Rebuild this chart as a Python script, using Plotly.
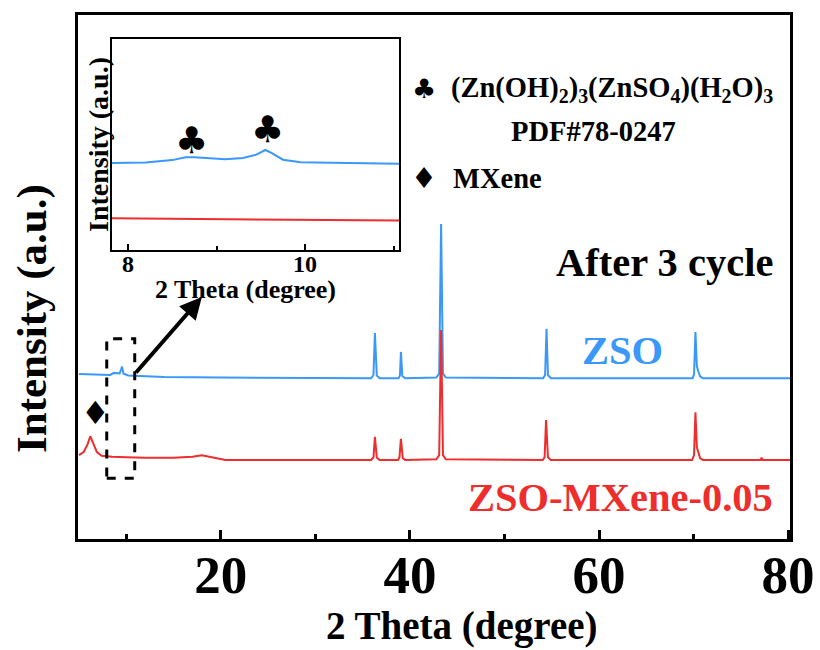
import plotly.graph_objects as go

W, H = 820, 650
SERIF = "Liberation Serif"
SYM = "DejaVu Sans"
BLUE = "#3A98F8"
RED = "#EE2D2D"

# ---- main XRD patterns (2θ in degree, intensity in a.u., ZSO stacked above) ----
red_x = [5.0, 5.5, 5.9, 6.2, 6.5, 6.9, 7.4, 8.5, 10.0, 12.0, 15.0, 17.0, 18.0, 19.0, 20.5,
         30.0, 35.9, 36.15, 36.3, 36.5, 36.8, 38.75, 38.9, 39.05, 39.25, 39.5,
         42.8, 43.1, 43.3, 43.5, 43.8, 54.05, 54.25, 54.4, 54.6, 54.9,
         69.85, 70.05, 70.2, 70.35, 70.5, 70.7, 71.0, 77.1, 77.2, 77.3, 80.2]
red_y = [16.0, 16.6, 18.0, 19.6, 18.3, 16.6, 15.9, 15.7, 15.6, 15.5, 15.5, 15.7, 16.0, 15.6, 15.1,
         15.1, 15.1, 15.6, 19.5, 15.5, 15.1, 15.1, 15.6, 19.1, 15.4, 15.1,
         15.2, 16.0, 39.9, 16.0, 15.2, 15.1, 15.6, 22.7, 15.6, 15.1,
         15.1, 16.0, 24.2, 17.5, 16.5, 15.4, 15.1, 15.1, 15.5, 15.1, 15.1]

blue_x = [5.0, 7.0, 8.3, 8.7, 9.3, 9.45, 9.55, 9.7, 10.2, 14.0, 20.0,
          35.9, 36.15, 36.3, 36.5, 36.8, 38.8, 38.95, 39.05, 39.2, 39.5,
          42.8, 43.1, 43.3, 43.5, 43.8, 54.1, 54.3, 54.45, 54.6, 54.9,
          69.9, 70.05, 70.2, 70.35, 70.5, 70.7, 71.0, 80.2]
blue_y = [31.5, 31.4, 31.3, 31.7, 31.6, 32.3, 32.9, 31.6, 31.2, 30.9, 30.8,
          30.7, 31.3, 39.3, 31.2, 30.7, 30.7, 31.2, 35.7, 31.1, 30.7,
          30.8, 31.6, 60.1, 31.6, 30.8, 30.7, 31.3, 40.1, 31.3, 30.7,
          30.7, 31.4, 39.5, 33.0, 32.0, 31.0, 30.7, 30.7]

# ---- enlarged low-angle window (inset) ----
inset_blue_x = [7.82, 8.2, 8.5, 8.65, 8.75, 8.95, 9.1, 9.3, 9.45, 9.55, 9.62, 9.75, 9.95, 10.3, 10.7, 11.06]
inset_blue_y = [41.2, 41.5, 42.6, 44.0, 43.9, 43.2, 43.0, 43.6, 45.2, 47.4, 46.0, 42.8, 41.6, 41.3, 41.0, 40.9]
inset_red_x = [7.82, 8.5, 9.2, 10.0, 10.6, 11.06]
inset_red_y = [15.0, 14.8, 14.6, 14.4, 14.2, 14.0]

club_x = [8.72, 9.57]
club_y = [52.0, 57.0]
mxene_mark = (6.7, 24.0)
zoom_window = (7.94, 10.9)
zoom_box_y = (11.6, 38.2)
arrow_tail = (10.9, 31.5)
arrow_head = (18.0, 46.2)

main_xticks = [20, 40, 60, 80]
main_minor = [10, 30, 50, 70]
inset_xticks = [8, 10]
inset_minor = [9, 11]


def px(x):
    return x / W


def py(y):
    return 1 - y / H


def label(x, y, text, size, color="black", family=SERIF, xanchor="center", angle=0):
    return dict(x=px(x), y=py(y), xref="paper", yref="paper", text=text, showarrow=False,
                xanchor=xanchor, yanchor="middle", textangle=angle,
                font=dict(family=family, size=size, color=color))


fig = go.Figure()
fig.add_trace(go.Scatter(x=blue_x, y=blue_y, mode="lines", line=dict(color=BLUE, width=2),
                         xaxis="x", yaxis="y", hoverinfo="skip"))
fig.add_trace(go.Scatter(x=red_x, y=red_y, mode="lines", line=dict(color=RED, width=2),
                         xaxis="x", yaxis="y", hoverinfo="skip"))
fig.add_trace(go.Scatter(x=inset_blue_x, y=inset_blue_y, mode="lines", line=dict(color=BLUE, width=2),
                         xaxis="x2", yaxis="y2", hoverinfo="skip"))
fig.add_trace(go.Scatter(x=inset_red_x, y=inset_red_y, mode="lines", line=dict(color=RED, width=2),
                         xaxis="x2", yaxis="y2", hoverinfo="skip"))

ann = []
# clubs in the inset
for cx, cy in zip(club_x, club_y):
    ann.append(dict(x=cx, y=cy, xref="x2", yref="y2", text="♣", showarrow=False,
                    xanchor="center", yanchor="middle",
                    font=dict(family=SYM, size=37, color="black")))
# diamond over the MXene peak
ann.append(dict(x=mxene_mark[0], y=mxene_mark[1], xref="x", yref="y", text="♦", showarrow=False,
                xanchor="center", yanchor="middle",
                font=dict(family=SYM, size=32, color="black")))
# arrow from the dashed window to the inset
ann.append(dict(x=arrow_head[0], y=arrow_head[1], ax=arrow_tail[0], ay=arrow_tail[1],
                xref="x", yref="y", axref="x", ayref="y", text="", showarrow=True,
                arrowhead=2, arrowsize=1.1, arrowwidth=4, arrowcolor="black"))

# phase legend
ann.append(label(424, 88, "♣", 27, family=SYM))
ann.append(label(449, 90, "<b>(Zn(OH)<sub>2</sub>)<sub>3</sub>(ZnSO<sub>4</sub>)(H<sub>2</sub>O)<sub>3</sub></b>",
                 28.5, xanchor="left"))
ann.append(label(593, 132, "<b>PDF#78-0247</b>", 28.5))
ann.append(label(424, 178, "♦", 29, family=SYM))
ann.append(label(451, 178, "<b>MXene</b>", 28.5, xanchor="left"))

# sample labels
ann.append(label(775, 262, "<b>After 3 cycle</b>", 40.5, xanchor="right"))
ann.append(label(622, 350, "<b>ZSO</b>", 40.5, color=BLUE))
ann.append(label(775, 497, "<b>ZSO-MXene-0.05</b>", 40.5, color=RED, xanchor="right"))

# axis titles
ann.append(label(462, 626, "<b>2 Theta (degree)</b>", 39))
ann.append(label(32, 319, "<b>Intensity (a.u.)</b>", 43, angle=-90))
ann.append(label(245, 289, "<b>2 Theta (degree)</b>", 26))
ann.append(label(98, 145, "<b>Intensity (a.u.)</b>", 28, angle=-90))

shapes = [dict(type="rect", xref="x", yref="y", x0=zoom_window[0], x1=zoom_window[1],
               y0=zoom_box_y[0], y1=zoom_box_y[1], line=dict(color="black", width=3, dash="dash"))]

fig.update_layout(
    template="none",
    width=W, height=H, margin=dict(l=0, r=0, t=0, b=0, pad=0), autosize=False,
    paper_bgcolor="white", plot_bgcolor="white", showlegend=False,
    annotations=ann, shapes=shapes,
    xaxis=dict(domain=[px(78), px(790)], range=[4.9, 80.2], showgrid=False, zeroline=False,
               automargin=False,
               showline=True, linecolor="black", linewidth=3, mirror=True,
               tickmode="array", tickvals=main_xticks, ticktext=[f"<b>{t}</b>" for t in main_xticks],
               ticks="inside", ticklen=9, tickwidth=3, tickcolor="black",
               minor=dict(tickmode="array", tickvals=main_minor, ticks="inside", ticklen=5,
                          tickwidth=3, tickcolor="black", showgrid=False),
               tickfont=dict(family=SERIF, size=53, color="black"), ticklabelstandoff=-13),
    yaxis=dict(domain=[py(539), py(15)], range=[0, 100], showgrid=False, zeroline=False,
               automargin=False,
               showline=True, linecolor="black", linewidth=3, mirror=True,
               showticklabels=False, ticks=""),
    xaxis2=dict(domain=[px(112), px(399)], range=[7.82, 11.06], anchor="y2",
                automargin=False,
                showgrid=False, zeroline=False, showline=True, linecolor="black", linewidth=2,
                mirror=True, tickmode="array", tickvals=inset_xticks,
                ticktext=[f"<b>{t}</b>" for t in inset_xticks],
                ticks="inside", ticklen=6, tickwidth=2, tickcolor="black",
                minor=dict(tickmode="array", tickvals=inset_minor, ticks="inside", ticklen=4,
                           tickwidth=2, tickcolor="black", showgrid=False),
                tickfont=dict(family=SERIF, size=24, color="black"), ticklabelstandoff=-9),
    yaxis2=dict(domain=[py(250), py(39)], range=[0, 100], anchor="x2",
                automargin=False,
                showgrid=False, zeroline=False, showline=True, linecolor="black", linewidth=2,
                mirror=True, showticklabels=False, ticks=""),
)

fig.write_html("out.html")
